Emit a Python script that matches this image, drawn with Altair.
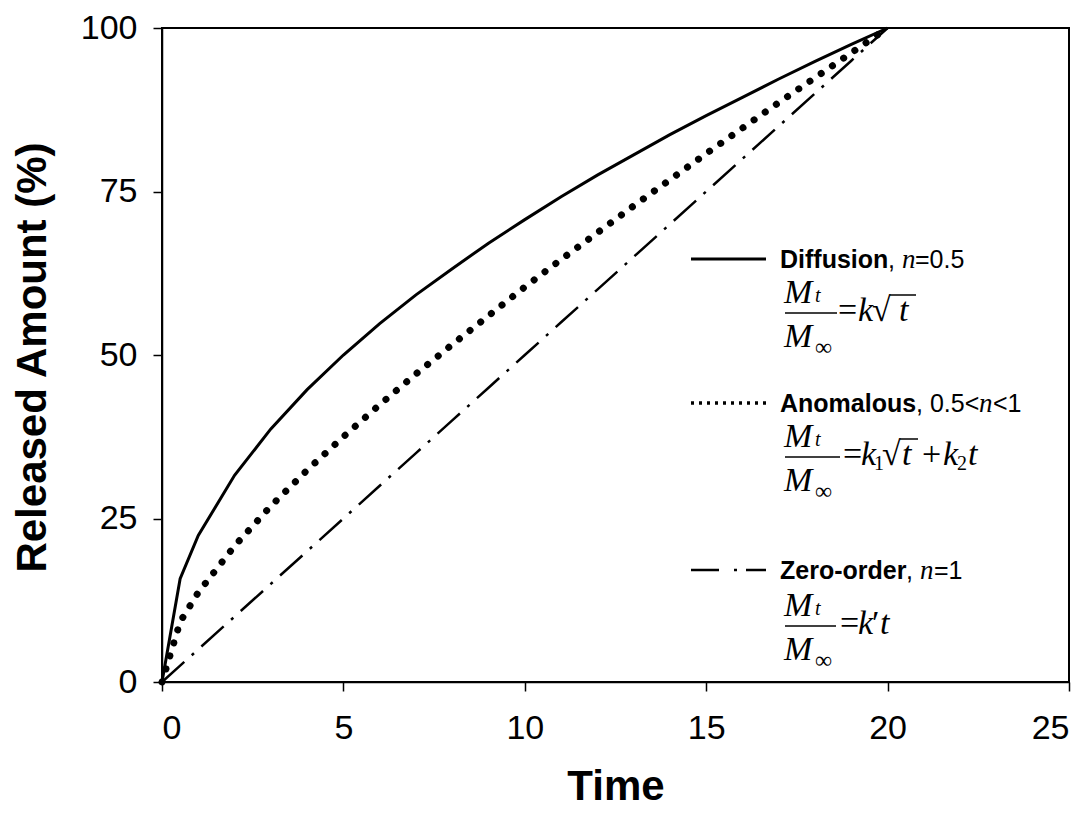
import altair as alt
import pandas as pd

# ---------------- data ----------------
time = [0, 0.5, 1, 2, 3, 4, 5, 6, 7, 8, 9, 10, 11, 12, 13, 14, 15, 16, 17, 18, 19, 20]
diffusion = [0, 15.8, 22.4, 31.6, 38.7, 44.7, 50.0, 54.8, 59.2, 63.2, 67.1, 70.7,
             74.2, 77.5, 80.6, 83.7, 86.6, 89.4, 92.2, 94.9, 97.5, 100]
anomalous = [0, 9.2, 13.7, 20.8, 26.9, 32.4, 37.5, 42.4, 47.1, 51.6, 56.0, 60.4,
             64.6, 68.7, 72.8, 76.8, 80.8, 84.7, 88.6, 92.4, 96.2, 100]
zero_order = [0, 2.5, 5, 10, 15, 20, 25, 30, 35, 40, 45, 50,
              55, 60, 65, 70, 75, 80, 85, 90, 95, 100]

x_ticks = [0, 5, 10, 15, 20, 25]
y_ticks = [0, 25, 50, 75, 100]

df = pd.DataFrame({"Time": time, "Diffusion": diffusion,
                   "Anomalous": anomalous, "Zero": zero_order})
one = pd.DataFrame({"k": [0]})

W, H = 907, 654
LEFT, TOP = 162, 28

# ---------------- axes ----------------
x_enc = alt.X("Time:Q", scale=alt.Scale(domain=[0, 25], nice=False, zero=False),
              axis=alt.Axis(values=x_ticks, title="Time", format="d",
                            titleX=W / 2, titleY=117, titleBaseline="alphabetic",
                            titleAnchor="middle"))


def y_enc(field):
    return alt.Y(field + ":Q", scale=alt.Scale(domain=[0, 100], nice=False),
                 axis=alt.Axis(values=y_ticks, title="Released Amount (%)", format="d",
                               titleX=-130, titleY=H / 2 + 2, titleAngle=270,
                               titleBaseline="middle", titleAlign="center"))


base = alt.Chart(df)
line_diff = base.mark_line(color="black", strokeWidth=3).encode(x=x_enc, y=y_enc("Diffusion"))
line_anom = base.mark_line(color="black", strokeWidth=7, strokeDash=[0.1, 13.5],
                           strokeCap="round").encode(x=x_enc, y=y_enc("Anomalous"))
line_zero = base.mark_line(color="black", strokeWidth=2.5,
                           strokeDash=[30, 10, 3, 10]).encode(x=x_enc, y=y_enc("Zero"))

layers = [line_zero, line_anom, line_diff]

# ---------------- legend (annotation) ----------------
row_y = [259, 403, 570]      # label centre lines
bar_y = [313, 457, 626]      # fraction bars
sample_dash = [None, [3, 5], [28, 15, 3, 9]]
sample_width = [3, 3.5, 2.5]

STY = {
    "bold": dict(font="Liberation Sans", fontSize=25, fontWeight="bold"),
    "sans": dict(font="Liberation Sans", fontSize=25),
    "ital": dict(font="Liberation Serif", fontSize=27, fontStyle="italic"),
    "fm": dict(font="Liberation Serif", fontSize=34, fontStyle="italic"),
    "fsub": dict(font="Liberation Serif", fontSize=20, fontStyle="italic"),
    "fnum": dict(font="Liberation Serif", fontSize=20),
    "fop": dict(font="Liberation Serif", fontSize=34),
    "finf": dict(font="Liberation Serif", fontSize=24),
}

label_pieces = [
    [("Diffusion", 780, "bold"), (", ", 888, "sans"), ("n", 902, "ital"), ("=0.5", 915, "sans")],
    [("Anomalous", 780, "bold"), (", 0.5<", 916, "sans"), ("n", 979, "ital"), ("<1", 993, "sans")],
    [("Zero-order", 780, "bold"), (", ", 906, "sans"), ("n", 920, "ital"), ("=1", 934, "sans")],
]

rhs_pieces = [
    [("=", 838, "fop", 8), ("k", 858, "fm", 8), ("\u221a", 872, "fop", 8), ("t", 899, "fm", 8)],
    [("=", 843, "fop", 8), ("k", 861, "fm", 8), ("1", 874, "fnum", 13), ("\u221a", 882, "fop", 8),
     ("t", 902, "fm", 8), ("+", 922, "fop", 8), ("k", 943, "fm", 8), ("2", 957, "fnum", 13),
     ("t", 968, "fm", 8)],
    [("=", 840, "fop", 8), ("k", 858, "fm", 8), ("\u2032", 872, "fop", 8), ("t", 880, "fm", 8)],
]
overlines = [(890, 916), (900, 918), None]
bar_right = [837, 840, 836]


def txt(s, x, y, style):
    return alt.Chart(one).mark_text(text=s, align="left", baseline="alphabetic",
                                    color="black", **STY[style]).encode(
        x=alt.value(x - LEFT), y=alt.value(y - TOP))


def rule(x1, x2, y, width, dash=None):
    kw = dict(color="black", strokeWidth=width)
    if dash is not None:
        kw["strokeDash"] = dash
    return alt.Chart(one).mark_rule(**kw).encode(
        x=alt.value(x1 - LEFT), x2=alt.value(x2 - LEFT), y=alt.value(y - TOP))


for i in range(3):
    L, B = row_y[i], bar_y[i]
    layers.append(rule(691, 766, L, sample_width[i], sample_dash[i]))
    for s, x, st in label_pieces[i]:
        layers.append(txt(s, x, L + 9, st))
    layers.append(txt("M", 784, B - 10, "fm"))
    layers.append(txt("t", 815, B - 11, "fsub"))
    layers.append(rule(785, bar_right[i], B, 1.5))
    layers.append(txt("M", 784, B + 34, "fm"))
    layers.append(txt("\u221e", 815, B + 42, "finf"))
    for s, x, st, dy in rhs_pieces[i]:
        layers.append(txt(s, x, B + dy, st))
    if overlines[i] is not None:
        a, b = overlines[i]
        layers.append(rule(a, b, B - 18, 1.5))

chart = alt.layer(*layers).properties(
    width=W, height=H,
    autosize=alt.AutoSizeParams(type="none"),
    padding={"left": LEFT, "top": TOP, "right": 1091 - LEFT - W, "bottom": 813 - TOP - H},
).configure_view(stroke="black", strokeWidth=2).configure_axis(
    grid=False, domainColor="black", domainWidth=1.5, tickColor="black", tickWidth=1.5,
    tickSize=9, labelFont="Liberation Sans", labelFontSize=34, labelColor="black",
    titleFont="Liberation Sans", titleFontSize=42, titleFontWeight="bold", titleColor="black",
).configure_axisX(labelPadding=20).configure_axisY(labelPadding=16)

chart.save("out.html", embed_options={"renderer": "svg", "actions": False})
